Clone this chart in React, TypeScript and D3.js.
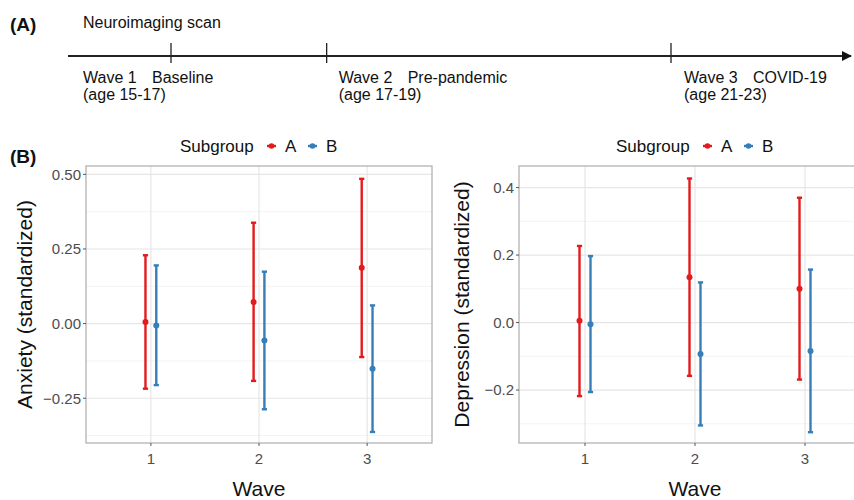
import React from "react";
import * as d3 from "d3";

// ---------- data ----------
const waves = [1, 2, 3];
const subgroups = ["A", "B"];
const subgroupColors = ["#E41A1C", "#377EB8"];

// Anxiety (standardized): estimate, lower, upper per wave
const anxietyA_est = [0.005, 0.072, 0.187];
const anxietyA_lo = [-0.218, -0.192, -0.112];
const anxietyA_hi = [0.229, 0.338, 0.485];
const anxietyB_est = [-0.006, -0.057, -0.151];
const anxietyB_lo = [-0.206, -0.287, -0.363];
const anxietyB_hi = [0.195, 0.174, 0.061];

// Depression (standardized)
const depressionA_est = [0.005, 0.134, 0.1];
const depressionA_lo = [-0.218, -0.158, -0.169];
const depressionA_hi = [0.227, 0.427, 0.37];
const depressionB_est = [-0.005, -0.093, -0.084];
const depressionB_lo = [-0.206, -0.305, -0.325];
const depressionB_hi = [0.197, 0.119, 0.157];

const anxietyTicks = [-0.25, 0, 0.25, 0.5];
const anxietyMinor = [-0.375, -0.125, 0.125, 0.375];
const depressionTicks = [-0.2, 0, 0.2, 0.4];
const depressionMinor = [-0.3, -0.1, 0.1, 0.3];

const timelineWaves = ["Wave 1", "Wave 2", "Wave 3"];
const timelineLabels = ["Baseline", "Pre-pandemic", "COVID-19"];
const timelineAges = ["(age 15-17)", "(age 17-19)", "(age 21-23)"];
const timelineYears = [0, 1.65, 5.3];

// layout
const timelineTextOffsets = [-88, 12, 13];
const FONT = "'Liberation Sans', Arial, Helvetica, sans-serif";

type PanelProps = {
  x0: number;
  x1: number;
  y0: number;
  y1: number;
  yDomain: [number, number];
  ticks: number[];
  minor: number[];
  fmt: (v: number) => string;
  title: string;
  titleX: number;
  legendX: number;
  est: number[][];
  lo: number[][];
  hi: number[][];
  clipId: string;
};

function Panel(p: PanelProps) {
  const x = d3.scaleLinear().domain([0.4, 3.6]).range([p.x0, p.x1]);
  const y = d3.scaleLinear().domain(p.yDomain).range([p.y1, p.y0]);
  const dodge = [-0.05, 0.05];
  const gridMajor = "#e6e6e6";
  const gridMinor = "#f3f3f3";
  const border = "#b3b3b3";
  const cx = (p.x0 + p.x1) / 2;
  const cy = (p.y0 + p.y1) / 2;
  return (
    <g>
      <defs>
        <clipPath id={p.clipId}>
          <rect x={p.x0} y={p.y0} width={p.x1 - p.x0} height={p.y1 - p.y0} />
        </clipPath>
      </defs>
      <g clipPath={`url(#${p.clipId})`}>
        {p.minor.map((t) => (
          <line key={"mi" + t} x1={p.x0} x2={p.x1} y1={y(t)} y2={y(t)} stroke={gridMinor} strokeWidth={1} />
        ))}
        {p.ticks.map((t) => (
          <line key={"ma" + t} x1={p.x0} x2={p.x1} y1={y(t)} y2={y(t)} stroke={gridMajor} strokeWidth={1.2} />
        ))}
        {waves.map((w) => (
          <line key={"vx" + w} x1={x(w)} x2={x(w)} y1={p.y0} y2={p.y1} stroke={gridMajor} strokeWidth={1.2} />
        ))}
        {subgroups.map((g, gi) =>
          waves.map((w, wi) => {
            const xx = x(w + dodge[gi]);
            const col = subgroupColors[gi];
            return (
              <g key={g + w}>
                <line x1={xx} x2={xx} y1={y(p.lo[gi][wi])} y2={y(p.hi[gi][wi])} stroke={col} strokeWidth={2.4} />
                <line x1={xx - 2.6} x2={xx + 2.6} y1={y(p.lo[gi][wi])} y2={y(p.lo[gi][wi])} stroke={col} strokeWidth={2.4} />
                <line x1={xx - 2.6} x2={xx + 2.6} y1={y(p.hi[gi][wi])} y2={y(p.hi[gi][wi])} stroke={col} strokeWidth={2.4} />
                <circle cx={xx} cy={y(p.est[gi][wi])} r={3} fill={col} />
              </g>
            );
          })
        )}
      </g>
      <rect x={p.x0} y={p.y0} width={p.x1 - p.x0} height={p.y1 - p.y0} fill="none" stroke={border} strokeWidth={1.3} />
      {p.ticks.map((t) => (
        <g key={"yt" + t}>
          <line x1={p.x0 - 3} x2={p.x0} y1={y(t)} y2={y(t)} stroke="#555" strokeWidth={1} />
          <text x={p.x0 - 5} y={y(t)} dy="0.36em" textAnchor="end" fontSize={15} fill="#4d4d4d" fontFamily={FONT}>
            {p.fmt(t)}
          </text>
        </g>
      ))}
      {waves.map((w) => (
        <g key={"xt" + w}>
          <line x1={x(w)} x2={x(w)} y1={p.y1} y2={p.y1 + 3} stroke="#555" strokeWidth={1} />
          <text x={x(w)} y={p.y1 + 21} textAnchor="middle" fontSize={15} fill="#4d4d4d" fontFamily={FONT}>
            {String(w)}
          </text>
        </g>
      ))}
      <text x={cx} y={496} textAnchor="middle" fontSize={21} fill="#111" fontFamily={FONT}>
        Wave
      </text>
      <text
        transform={`translate(${p.titleX},${cy}) rotate(-90)`}
        textAnchor="middle"
        dy="0.36em"
        fontSize={21}
        fill="#111"
        fontFamily={FONT}
      >
        {p.title}
      </text>
      <g transform={`translate(${p.legendX},152)`}>
        <text x={0} y={0} fontSize={17} fill="#111" fontFamily={FONT}>
          Subgroup
        </text>
        {subgroups.map((g, gi) => {
          const gx = 87 + gi * 41;
          return (
            <g key={"lg" + g}>
              <line x1={gx} x2={gx + 9} y1={-6} y2={-6} stroke={subgroupColors[gi]} strokeWidth={2.4} />
              <circle cx={gx + 4.5} cy={-6} r={2.8} fill={subgroupColors[gi]} />
              <text x={gx + 18} y={0} fontSize={17} fill="#111" fontFamily={FONT}>
                {g}
              </text>
            </g>
          );
        })}
      </g>
    </g>
  );
}

function Timeline() {
  const t = d3.scaleLinear().domain([0, 5.3]).range([171, 671]);
  const lineY = 56;
  return (
    <g fontFamily={FONT}>
      <defs>
        <marker id="arrow" viewBox="0 0 10 10" refX="9" refY="5" markerWidth="5" markerHeight="5" orient="auto">
          <path d="M0,0 L10,5 L0,10 z" fill="#111" />
        </marker>
      </defs>
      <text x={10} y={31} fontSize={19} fontWeight="bold" fill="#111">
        (A)
      </text>
      <text x={83} y={28} fontSize={16} fill="#111">
        Neuroimaging scan
      </text>
      <line x1={68} x2={851} y1={lineY} y2={lineY} stroke="#222" strokeWidth={2} markerEnd="url(#arrow)" />
      {timelineYears.map((yr, i) => {
        const lx = t(yr) + timelineTextOffsets[i];
        return (
          <g key={"tl" + i}>
            <line x1={t(yr)} x2={t(yr)} y1={43} y2={63} stroke="#222" strokeWidth={1.3} />
            <text x={lx} y={83} fontSize={16} fill="#111">
              {timelineWaves[i]}
            </text>
            <text x={lx + 69} y={83} fontSize={16} fill="#111">
              {timelineLabels[i]}
            </text>
            <text x={lx} y={100} fontSize={16} fill="#111">
              {timelineAges[i]}
            </text>
          </g>
        );
      })}
      <text x={10} y={163} fontSize={19} fontWeight="bold" fill="#111">
        (B)
      </text>
    </g>
  );
}

export default function App() {
  const f2 = (v: number) => d3.format(".2f")(v);
  const f1 = (v: number) => d3.format(".1f")(v);
  return (
    <svg
      width={854}
      height={500}
      style={{ position: "absolute", left: 0, top: 0, background: "#fff" }}
    >
      <rect x={0} y={0} width={854} height={500} fill="#fff" />
      <Timeline />
      <Panel
        x0={86}
        x1={432}
        y0={166}
        y1={443}
        yDomain={[-0.4, 0.528]}
        ticks={anxietyTicks}
        minor={anxietyMinor}
        fmt={f2}
        title="Anxiety (standardized)"
        titleX={24}
        legendX={180}
        est={[anxietyA_est, anxietyB_est]}
        lo={[anxietyA_lo, anxietyB_lo]}
        hi={[anxietyA_hi, anxietyB_hi]}
        clipId="clipL"
      />
      <Panel
        x0={519}
        x1={871}
        y0={166}
        y1={443}
        yDomain={[-0.357, 0.464]}
        ticks={depressionTicks}
        minor={depressionMinor}
        fmt={f1}
        title="Depression (standardized)"
        titleX={461}
        legendX={616}
        est={[depressionA_est, depressionB_est]}
        lo={[depressionA_lo, depressionB_lo]}
        hi={[depressionA_hi, depressionB_hi]}
        clipId="clipR"
      />
    </svg>
  );
}
